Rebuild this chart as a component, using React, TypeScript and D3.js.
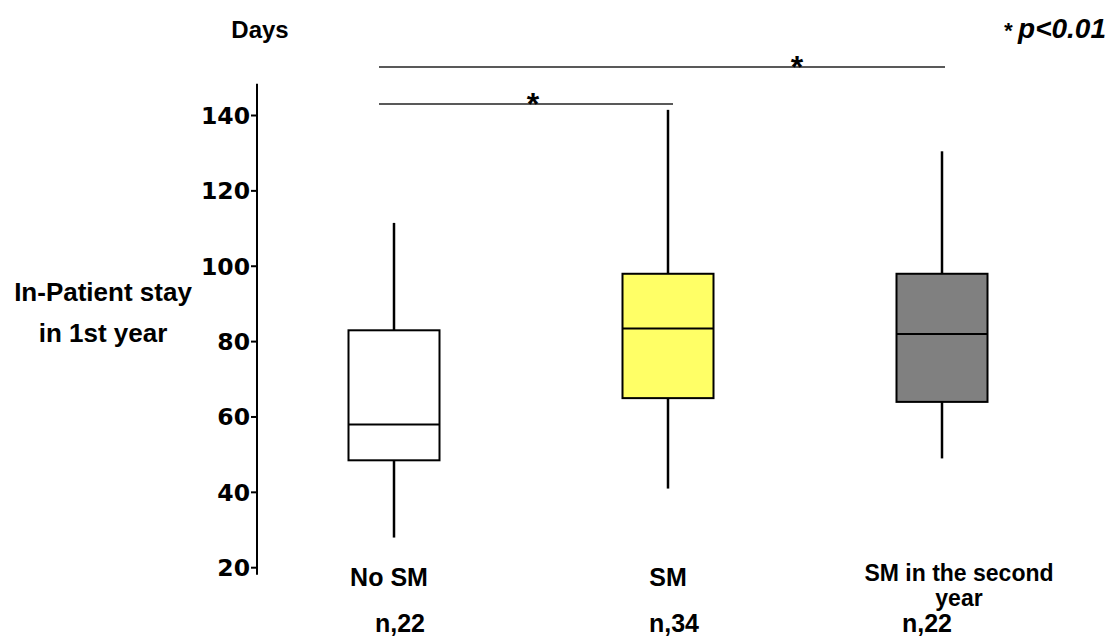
import * as d3 from 'd3';

// box plot data (days)
const categories = ['No SM', 'SM', 'SM in the second year'];
const labelLines = [['No SM'], ['SM'], ['SM in the second', 'year']];
const whiskerHigh = [111.5, 141.5, 130.5];
const q3 = [83, 98, 98];
const medians = [58, 83.5, 82];
const q1 = [48.5, 65, 64];
const whiskerLow = [28, 41, 49];
const nLabels = ['n,22', 'n,34', 'n,22'];
const boxColors = ['#ffffff', '#ffff66', '#808080'];
const yTicks = [20, 40, 60, 80, 100, 120, 140];
// significance brackets: [from, to]
const brackets = [
    ['No SM', 'SM in the second year'],
    ['No SM', 'SM'],
];

export default function App() {
    const width = 1112;
    const height = 638;
    const axisX = 257;
    const boxWidth = 91;
    const arial = 'Liberation Sans, Arial, sans-serif';
    const fs = 26;

    const yScale = d3.scaleLinear().domain([20, 140]).range([567.7, 115.5]);
    const xScale = d3.scalePoint().domain(categories).range([394, 942]);

    const bracketY = [67, 104];
    const bracketLeft = 379;
    const bracketEnds = [945, 673];
    const starX = [797, 533];

    return (
        <svg width={width} height={height} style={{ position: 'absolute', left: 0, top: 0, background: '#fff' }}>
            {/* axis */}
            <line x1={axisX} x2={axisX} y1={yScale(148.4)} y2={yScale(18.1)} stroke="#000" strokeWidth={2} />
            {yTicks.map(t => (
                <g key={t} transform={`translate(0,${yScale(t)})`}>
                    <line x1={axisX - 6} x2={axisX} stroke="#000" strokeWidth={2} />
                    <text x={axisX - 7} dy="0.36em" textAnchor="end" fontFamily="DejaVu Sans" fontWeight="bold" fontSize={23.5} fill="#000">{t}</text>
                </g>
            ))}

            <text x={260} y={38} textAnchor="middle" fontFamily={arial} fontWeight="bold" fontSize={fs - 2}>Days</text>
            <text x={1106} y={38} textAnchor="end" fontFamily={arial} fontWeight="bold" fontStyle="italic" fontSize={28}>
                <tspan fontSize={22}>* </tspan>p&lt;0.01
            </text>
            <text x={103} y={301} textAnchor="middle" fontFamily={arial} fontWeight="bold" fontSize={fs}>In-Patient stay</text>
            <text x={103} y={342} textAnchor="middle" fontFamily={arial} fontWeight="bold" fontSize={fs}>in 1st year</text>

            {/* boxes */}
            {categories.map((c, i) => {
                const cx = xScale(c) as number;
                return (
                    <g key={c}>
                        <line x1={cx} x2={cx} y1={yScale(whiskerHigh[i])} y2={yScale(q3[i])} stroke="#000" strokeWidth={2.5} />
                        <line x1={cx} x2={cx} y1={yScale(q1[i])} y2={yScale(whiskerLow[i])} stroke="#000" strokeWidth={2.5} />
                        <rect x={cx - boxWidth / 2} width={boxWidth} y={yScale(q3[i])} height={yScale(q1[i]) - yScale(q3[i])}
                            fill={boxColors[i]} stroke="#000" strokeWidth={2} />
                        <line x1={cx - boxWidth / 2} x2={cx + boxWidth / 2} y1={yScale(medians[i])} y2={yScale(medians[i])} stroke="#000" strokeWidth={2} />
                    </g>
                );
            })}

            {/* category labels */}
            {categories.map((c, i) => {
                const cx = xScale(c) as number;
                const shift = i === 0 ? -5 : i === 2 ? 17 : 0;
                const two = labelLines[i].length > 1;
                return (
                    <g key={c}>
                        {labelLines[i].map((l, j) => (
                            <text key={l} x={cx + shift} y={(two ? 581 : 586) + j * 25} textAnchor="middle" fontFamily={arial} fontWeight="bold" fontSize={two ? 23 : fs - 1}>{l}</text>
                        ))}
                        <text x={cx + (i === 2 ? -15 : 6)} y={632} textAnchor="middle" fontFamily={arial} fontWeight="bold" fontSize={fs - 1}>{nLabels[i]}</text>
                    </g>
                );
            })}

            {/* significance */}
            {brackets.map((b, i) => (
                <g key={i}>
                    <line x1={bracketLeft} x2={bracketEnds[i]} y1={bracketY[i]} y2={bracketY[i]} stroke="#222" strokeWidth={1.5} />
                    <text x={starX[i]} y={bracketY[i] + 11} textAnchor="middle" fontFamily={arial} fontWeight="bold" fontSize={32}>*</text>
                </g>
            ))}
        </svg>
    );
}
